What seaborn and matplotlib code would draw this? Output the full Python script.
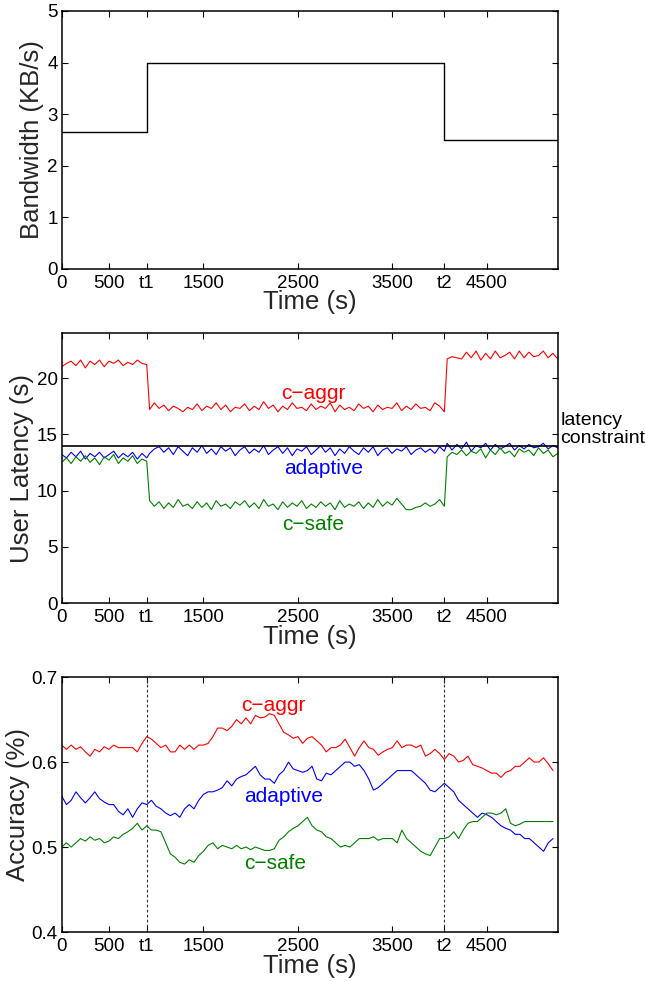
import numpy as np
import matplotlib
matplotlib.use("Agg")
import matplotlib.pyplot as plt
import seaborn as sns

# ---------------- data ----------------
T1, T2, TEND = 900, 4050, 5250
xtick_vals = [0, 500, T1, 1500, 2500, 3500, T2, 4500]
xtick_labels = ["0", "500", "t1", "1500", "2500", "3500", "t2", "4500"]

# bandwidth (KB/s) step levels
bw_time = [0, T1, T2, TEND]
bw_vals = [2.65, 4.0, 2.5, 2.5]

# user latency (s): segments before t1, between t1 and t2, after t2
aggr_pre = [21.0, 21.3, 21.5, 21.1, 21.6, 20.9, 21.5, 21.2, 21.6, 21.0, 21.5, 21.3,
            21.6, 21.1, 21.4, 21.2, 21.6, 21.3, 21.2]
aggr_mid = [17.2, 17.8, 17.3, 17.6, 17.1, 17.5, 17.3, 17.0, 17.4, 17.2, 17.7, 17.1,
            17.5, 17.3, 17.8, 17.2, 17.6, 17.0, 17.4, 17.3, 17.7, 17.1, 17.5, 17.2,
            17.9, 17.3, 17.6, 17.0, 17.5, 17.2, 17.8, 17.3, 17.4, 17.1, 17.7, 17.2,
            17.5, 17.3, 17.8, 17.0, 17.6, 17.2, 17.4, 17.1, 17.7, 17.3, 17.5, 17.0,
            17.6, 17.2, 17.4, 17.3, 17.8, 17.1, 17.5, 17.2, 17.7, 17.3, 17.4, 17.1,
            17.8, 17.5, 17.0]
aggr_post = [21.7, 21.9, 21.8, 21.7, 22.3, 21.8, 22.4, 21.6, 22.2, 21.7, 22.4, 21.8,
             22.0, 22.3, 21.7, 22.4, 21.8, 22.3, 21.9, 22.0, 22.4, 21.8, 22.2, 21.7]

adapt_pre = [13.2, 12.9, 13.4, 13.0, 13.5, 12.8, 13.3, 13.0, 13.4, 12.9, 13.2, 13.5,
             12.9, 13.3, 13.0, 13.4, 12.8, 13.3, 12.9]
adapt_mid = [13.3, 13.7, 13.9, 13.4, 13.8, 13.2, 13.9, 13.5, 13.1, 13.8, 13.4, 14.0,
             13.3, 13.7, 13.2, 13.9, 13.5, 13.8, 13.1, 13.6, 13.9, 13.3, 13.7, 13.4,
             14.0, 13.2, 13.6, 13.9, 13.3, 13.8, 13.1, 13.7, 13.5, 13.9, 13.2, 13.6,
             14.0, 13.4, 13.8, 13.1, 13.7, 13.3, 13.9, 13.5, 13.2, 13.8, 13.4, 13.9,
             13.1, 13.6, 13.8, 13.3, 13.7, 13.5, 13.9, 13.2, 13.6, 13.8, 13.4, 13.7,
             13.3, 13.9, 13.5]
adapt_post = [14.2, 13.6, 14.1, 13.7, 14.3, 13.5, 14.0, 13.8, 14.2, 13.6, 14.1, 13.7,
              13.9, 14.2, 13.6, 14.0, 13.7, 14.1, 13.8, 13.9, 14.2, 13.7, 14.0, 13.8]

safe_pre = [12.5, 12.9, 12.4, 13.0, 12.6, 13.1, 12.5, 12.9, 12.3, 13.0, 12.7, 13.2,
            12.4, 12.9, 12.6, 13.1, 12.4, 12.8, 12.6]
safe_mid = [9.1, 8.6, 9.0, 8.4, 8.9, 8.5, 9.2, 8.6, 8.8, 8.4, 9.0, 8.5, 8.9, 8.3,
            9.1, 8.6, 8.8, 8.4, 9.0, 8.7, 9.1, 8.5, 8.9, 8.4, 9.2, 8.6, 8.8, 8.3,
            9.0, 8.5, 8.9, 8.6, 9.1, 8.4, 8.8, 8.5, 9.0, 8.6, 8.9, 8.3, 9.1, 8.5,
            8.8, 8.6, 9.0, 8.4, 8.9, 8.5, 9.2, 8.6, 9.0, 8.7, 9.3, 8.8, 8.3, 8.3,
            8.5, 8.6, 8.9, 8.6, 8.8, 9.2, 8.6]
safe_post = [13.0, 13.4, 13.2, 13.6, 13.1, 13.5, 13.3, 13.7, 12.9, 13.6, 13.2, 13.8,
             13.3, 13.5, 13.0, 13.7, 13.4, 13.6, 13.1, 13.8, 13.3, 13.6, 13.0, 13.3]

latency_constraint = 14

# accuracy, sampled every 50 s from 0 to 5200 s
acc_aggr = [0.620, 0.615, 0.620, 0.615, 0.618, 0.612, 0.607, 0.615, 0.612, 0.618,
            0.615, 0.620, 0.617, 0.617, 0.617, 0.617, 0.612, 0.622, 0.630, 0.627,
            0.622, 0.617, 0.620, 0.612, 0.612, 0.620, 0.615, 0.620, 0.615, 0.620,
            0.620, 0.622, 0.630, 0.640, 0.640, 0.637, 0.642, 0.650, 0.645, 0.652,
            0.645, 0.655, 0.652, 0.653, 0.657, 0.655, 0.645, 0.635, 0.632, 0.628,
            0.630, 0.622, 0.628, 0.630, 0.625, 0.620, 0.612, 0.617, 0.617, 0.620,
            0.627, 0.617, 0.607, 0.617, 0.625, 0.617, 0.615, 0.608, 0.612, 0.615,
            0.617, 0.625, 0.617, 0.620, 0.620, 0.617, 0.620, 0.607, 0.610, 0.615,
            0.610, 0.603, 0.610, 0.607, 0.600, 0.602, 0.607, 0.597, 0.595, 0.593,
            0.590, 0.587, 0.587, 0.582, 0.588, 0.590, 0.595, 0.595, 0.600, 0.605,
            0.600, 0.600, 0.605, 0.598, 0.590]
acc_adapt = [0.560, 0.550, 0.555, 0.565, 0.558, 0.552, 0.558, 0.565, 0.557, 0.553,
             0.550, 0.550, 0.542, 0.538, 0.545, 0.535, 0.545, 0.552, 0.550, 0.555,
             0.548, 0.545, 0.540, 0.537, 0.540, 0.535, 0.545, 0.550, 0.545, 0.555,
             0.562, 0.565, 0.565, 0.567, 0.570, 0.578, 0.572, 0.580, 0.583, 0.585,
             0.590, 0.595, 0.585, 0.580, 0.580, 0.575, 0.585, 0.590, 0.600, 0.592,
             0.590, 0.588, 0.590, 0.595, 0.580, 0.578, 0.587, 0.585, 0.590, 0.595,
             0.600, 0.600, 0.595, 0.597, 0.590, 0.580, 0.567, 0.570, 0.575, 0.580,
             0.585, 0.590, 0.590, 0.590, 0.590, 0.585, 0.580, 0.575, 0.567, 0.565,
             0.570, 0.575, 0.570, 0.565, 0.555, 0.550, 0.545, 0.540, 0.535, 0.540,
             0.538, 0.535, 0.530, 0.525, 0.522, 0.520, 0.515, 0.515, 0.510, 0.510,
             0.505, 0.500, 0.495, 0.505, 0.510]
acc_safe = [0.500, 0.505, 0.500, 0.505, 0.510, 0.507, 0.512, 0.508, 0.510, 0.505,
            0.507, 0.512, 0.510, 0.515, 0.518, 0.522, 0.528, 0.520, 0.525, 0.520,
            0.520, 0.518, 0.505, 0.492, 0.488, 0.482, 0.480, 0.485, 0.482, 0.490,
            0.495, 0.502, 0.505, 0.498, 0.502, 0.500, 0.498, 0.502, 0.498, 0.500,
            0.497, 0.500, 0.498, 0.496, 0.496, 0.498, 0.508, 0.512, 0.518, 0.522,
            0.525, 0.530, 0.535, 0.525, 0.520, 0.518, 0.512, 0.510, 0.505, 0.500,
            0.502, 0.500, 0.505, 0.510, 0.510, 0.510, 0.512, 0.508, 0.510, 0.510,
            0.510, 0.505, 0.520, 0.510, 0.505, 0.500, 0.495, 0.492, 0.490, 0.500,
            0.510, 0.510, 0.512, 0.518, 0.510, 0.520, 0.528, 0.530, 0.530, 0.535,
            0.540, 0.540, 0.538, 0.540, 0.545, 0.528, 0.525, 0.527, 0.530, 0.530,
            0.530, 0.530, 0.530, 0.530, 0.530]
ACC_END = 5200

# ---------------- style ----------------
sns.set_theme(style="ticks")
plt.rcParams["font.family"] = ["Liberation Sans", "DejaVu Sans"]
plt.rcParams["axes.linewidth"] = 1.1
plt.rcParams["axes.unicode_minus"] = True

RED, BLUE, GREEN = "#ff0000", "#0000ff", "#008000"
TICK_FS, LABEL_FS, TEXT_FS = 13.5, 18.5, 15

fig = plt.figure(figsize=(6.45, 9.81), dpi=100)
ax1 = fig.add_axes([0.0957, 0.7258, 0.769, 0.2630])
ax2 = fig.add_axes([0.0957, 0.3853, 0.769, 0.2752])
ax3 = fig.add_axes([0.0957, 0.0499, 0.769, 0.2599])


def seg_time(vals, a, b):
    return np.linspace(a, b, len(vals))


def latency_series(pre, mid, post):
    t = np.concatenate([seg_time(pre, 0, T1), seg_time(mid, T1 + 30, T2),
                        seg_time(post, T2 + 30, TEND)])
    v = np.concatenate([pre, mid, post])
    return t, v


def style_axes(ax, ylim, yticks, ylabel, ylabel_x, yticklabels=None):
    ax.set_xlim(0, TEND)
    ax.set_ylim(*ylim)
    ax.set_xticks(xtick_vals)
    ax.set_xticklabels(xtick_labels)
    ax.set_yticks(yticks)
    if yticklabels is not None:
        ax.set_yticklabels(yticklabels)
    ax.tick_params(direction="in", top=True, right=True, length=4, width=0.8,
                   labelsize=TICK_FS, colors="black", pad=3)
    ax.tick_params(axis="x", pad=4)
    for s in ax.spines.values():
        s.set_visible(True)
        s.set_color("black")
    ax.set_xlabel("Time (s)", fontsize=LABEL_FS)
    ax.set_ylabel(ylabel, fontsize=LABEL_FS)
    h_px = ax.get_position().height * fig.get_figheight() * fig.dpi
    ax.xaxis.set_label_coords(0.5, -21.5 / h_px)
    ax.yaxis.set_label_coords(ylabel_x, 0.5)


# panel 1: bandwidth
sns.lineplot(x=bw_time, y=bw_vals, ax=ax1, color="black", lw=1.0,
             drawstyle="steps-post", estimator=None, sort=False)
style_axes(ax1, (0, 5), [0, 1, 2, 3, 4, 5], "Bandwidth (KB/s)", -0.035)

# panel 2: latency
for (pre, mid, post), col in [((aggr_pre, aggr_mid, aggr_post), RED),
                              ((adapt_pre, adapt_mid, adapt_post), BLUE),
                              ((safe_pre, safe_mid, safe_post), GREEN)]:
    t, v = latency_series(pre, mid, post)
    sns.lineplot(x=t, y=v, ax=ax2, color=col, lw=0.8, estimator=None, sort=False)
ax2.axhline(latency_constraint, color="black", lw=1.2)
style_axes(ax2, (0, 24), [0, 5, 10, 15, 20], "User Latency (s)", -0.056)
ax2.text(2660, 18.6, "c\u2212aggr", color=RED, fontsize=TEXT_FS, ha="center", va="center")
ax2.text(2770, 12.0, "adaptive", color=BLUE, fontsize=TEXT_FS, ha="center", va="center")
ax2.text(2660, 7.0, "c\u2212safe", color=GREEN, fontsize=TEXT_FS, ha="center", va="center")
ax2.text(TEND + 30, 15.45, "latency\nconstraint", color="black", fontsize=14,
         ha="left", va="center", clip_on=False, linespacing=1.1)

# panel 3: accuracy
for vals, col in [(acc_aggr, RED), (acc_adapt, BLUE), (acc_safe, GREEN)]:
    sns.lineplot(x=seg_time(vals, 0, ACC_END), y=vals, ax=ax3, color=col, lw=0.8,
                 estimator=None, sort=False)
for tv in (T1, T2):
    ax3.axvline(tv, color="0.2", lw=0.8, linestyle=(0, (2.5, 2)))
style_axes(ax3, (0.4, 0.7), [0.4, 0.5, 0.6, 0.7], "Accuracy (%)", -0.064,
           yticklabels=["0.4", "0.5", "0.6", "0.7"])
ax3.text(2240, 0.667, "c\u2212aggr", color=RED, fontsize=TEXT_FS, ha="center", va="center")
ax3.text(2350, 0.559, "adaptive", color=BLUE, fontsize=TEXT_FS, ha="center", va="center")
ax3.text(2255, 0.481, "c\u2212safe", color=GREEN, fontsize=TEXT_FS, ha="center", va="center")

for ax in (ax1, ax2, ax3):
    leg = ax.get_legend()
    if leg is not None:
        leg.remove()

fig.savefig("out.png", dpi=100)
